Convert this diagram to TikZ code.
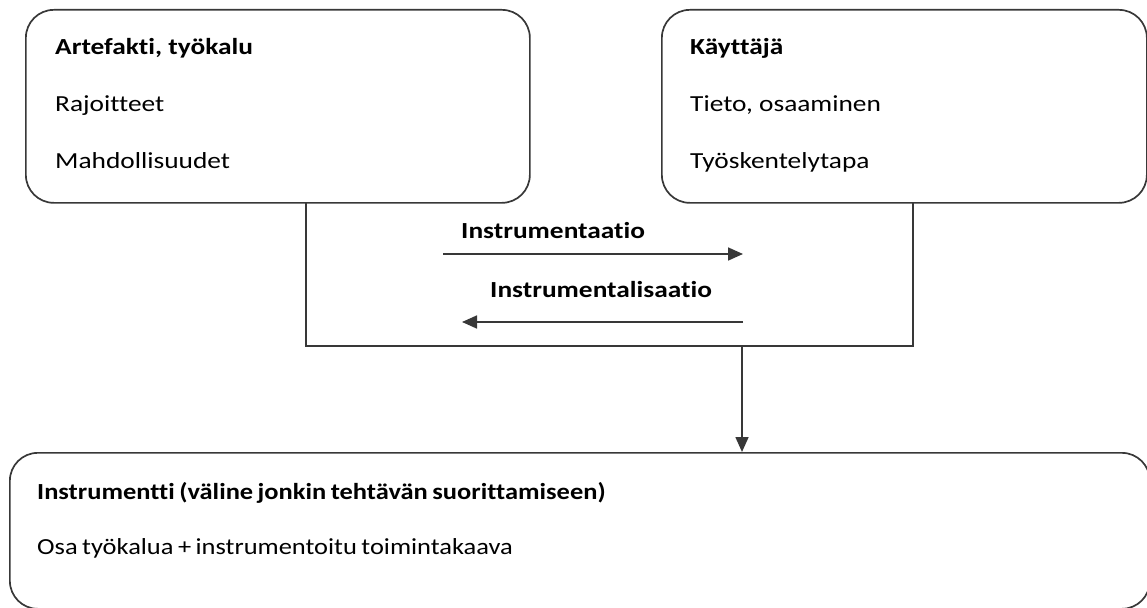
\documentclass[tikz,border=0pt]{standalone}
\usepackage{fontspec}
\setmainfont{Carlito}[FakeStretch=1.19, Ligatures={NoCommon}]
\newfontfamily\botfont{Carlito}[FakeStretch=1.15, WordSpace=0.75, Ligatures={NoCommon}]
\usetikzlibrary{arrows.meta}
\definecolor{linec}{HTML}{383838}
\newcommand{\fsz}{\fontsize{23}{28}\selectfont}
\begin{document}
\begin{tikzpicture}[x=1pt,y=-1pt,
  box/.style={draw=linec, line width=1.7pt, rounded corners=28pt, inner sep=0pt, anchor=north west},
  conn/.style={draw=linec, line width=1.7pt},
  arr/.style={conn, -{Triangle[length=15pt,width=13pt]}},
  lbl/.style={anchor=base west, inner sep=0pt, font=\fsz},
  ttl/.style={lbl, font=\fsz\bfseries},
  blbl/.style={lbl, font=\botfont\fsz},
  bttl/.style={lbl, font=\botfont\fsz\bfseries}]
\useasboundingbox (0,0) rectangle (1147,607);
% boxes
\node[box, minimum width=504pt, minimum height=193pt] (art) at (25,9) {};
\node[box, minimum width=485pt, minimum height=193pt] (user) at (661,9) {};
\node[box, minimum width=1140pt, minimum height=156pt] (inst) at (9,452) {};
% texts
\node[ttl] (t1) at (55,55) {Artefakti, työkalu};
\node[lbl] (t2) at (55,112) {Rajoitteet};
\node[lbl] (t3) at (55,168) {Mahdollisuudet};
\node[ttl] (u1) at (690,55) {Käyttäjä};
\node[lbl] (u2) at (690,112) {Tieto, osaaminen};
\node[lbl] (u3) at (690,168) {Työskentelytapa};
\node[bttl] (i1) at (37,499) {Instrumentti (väline jonkin tehtävän suorittamiseen)};
\node[blbl] (i2) at (37,554) {Osa työkalua + instrumentoitu toimintakaava};
\node[ttl] (m1) at (461,238) {Instrumentaatio};
\node[ttl] (m2) at (490,297) {Instrumentalisaatio};
% middle frame
\coordinate (mtl) at (306,202);
\coordinate (mbl) at (306,346);
\coordinate (mbr) at (913,346);
\coordinate (mtr) at (913,202);
\draw[conn] (mtl) -- (mbl) -- (mbr) -- (mtr);
% arrows
\coordinate (a1s) at (443,254);
\coordinate (a1e) at (743,254);
\coordinate (a2s) at (743,322);
\coordinate (a2e) at (462,322);
\draw[arr] (a1s) -- (a1e);
\draw[arr] (a2s) -- (a2e);
\coordinate (down) at (742,346);
\draw[arr] (down) -- (down |- inst.north);
\end{tikzpicture}
\end{document}
